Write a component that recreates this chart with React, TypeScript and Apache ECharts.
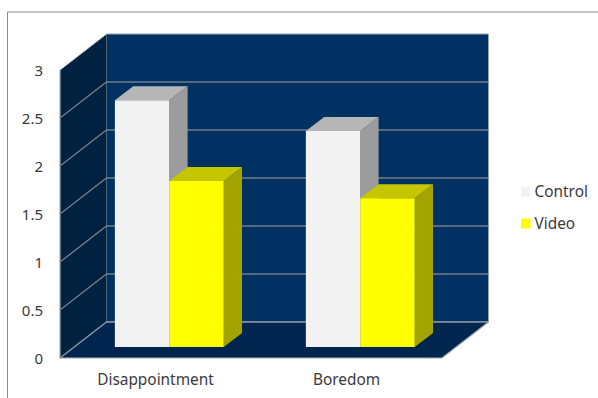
import React, { useEffect, useRef } from "react";
import * as echarts from "echarts";

const categories = ["Disappointment", "Boredom"];
const controlValues = [2.57, 2.25];
const videoValues = [1.73, 1.55];
const valueTicks = [0, 0.5, 1, 1.5, 2, 2.5, 3];

const FONT = "'Noto Sans', sans-serif";
const TEXT = "#3a3a3a";
const EDGE = "#8c96a3";
const GRID_LINE = "#707c8a";

// Oblique projection: how far the back wall sits from the front plane
const WALL_DX = 46.5;
const WALL_DY = 36;
// Bars stand part way into the floor and have their own depth
const BAR_INSET_X = 13.8;
const BAR_INSET_Y = 11;
const BAR_DX = 18.3;
const BAR_DY = 14;
const BAR_SHARE = 0.285;

const poly = (points: number[][], fill: string, stroke?: string, lineWidth = 1) => ({
  type: "polygon",
  shape: { points },
  style: { fill, stroke: stroke ?? "none", lineWidth },
});

// Walls and floor, with one gridline per value tick
const renderWalls = (params: any, api: any) => {
  const { x, y, width, height } = params.coordSys;
  const tick = api.value(0);
  const ty = api.coord([0, tick])[1];
  const children: any[] = [];
  if (params.dataIndex === 0) {
    const bottom = y + height;
    const right = x + width;
    children.push(
      poly([[x + WALL_DX, y - WALL_DY], [right + WALL_DX, y - WALL_DY], [right + WALL_DX, bottom - WALL_DY], [x + WALL_DX, bottom - WALL_DY]], "#003163", "#9aa3ad"),
      poly([[x, y], [x + WALL_DX, y - WALL_DY], [x + WALL_DX, bottom - WALL_DY], [x, bottom]], "#00213f"),
      poly([[x, bottom], [right, bottom], [right + WALL_DX, bottom - WALL_DY], [x + WALL_DX, bottom - WALL_DY]], "#00264f"),
      {
        type: "polyline",
        shape: { points: [[x, y], [x, bottom], [right, bottom], [right + WALL_DX, bottom - WALL_DY]] },
        style: { fill: "none", stroke: "#a6abb2", lineWidth: 1.2 },
      },
      {
        type: "line",
        shape: { x1: x, y1: y, x2: x + WALL_DX, y2: y - WALL_DY },
        style: { stroke: "#c4c8cd", lineWidth: 1 },
      }
    );
  }
  if (tick < valueTicks[valueTicks.length - 1]) {
    children.push({
      type: "polyline",
      shape: { points: [[x, ty], [x + WALL_DX, ty - WALL_DY], [x + width + WALL_DX, ty - WALL_DY]] },
      style: { fill: "none", stroke: tick === 0 ? EDGE : GRID_LINE, lineWidth: 1.4 },
    });
  }
  return { type: "group", children };
};

// A box whose front face is placed from the value scale
const renderBar = (slot: number, front: string, top: string, side: string) => (_: any, api: any) => {
  const base = api.coord([api.value(0), 0]);
  const head = api.coord([api.value(0), api.value(1)]);
  const w = api.size([1, 0])[0] * BAR_SHARE;
  const x0 = base[0] + BAR_INSET_X + slot * w;
  const x1 = x0 + w;
  const y0 = base[1] - BAR_INSET_Y;
  const y1 = head[1] - BAR_INSET_Y;
  return {
    type: "group",
    children: [
      poly([[x1, y0], [x1 + BAR_DX, y0 - BAR_DY], [x1 + BAR_DX, y1 - BAR_DY], [x1, y1]], side),
      poly([[x0, y1], [x1, y1], [x1 + BAR_DX, y1 - BAR_DY], [x0 + BAR_DX, y1 - BAR_DY]], top),
      poly([[x0, y0], [x1, y0], [x1, y1], [x0, y1]], front),
    ],
  };
};

const pairs = (values: number[]) => values.map((v, i) => [i, v]);

export default function App() {
  const ref = useRef<HTMLDivElement>(null);

  useEffect(() => {
    const chart = echarts.init(ref.current!, null, { renderer: "svg" });
    chart.setOption({
      animation: false,
      backgroundColor: "#ffffff",
      textStyle: { fontFamily: FONT },
      grid: { left: 60, right: 156, top: 70, bottom: 40, containLabel: false },
      xAxis: {
        type: "category",
        data: categories,
        axisLine: { show: false },
        axisTick: { show: false },
        axisLabel: { color: TEXT, fontFamily: FONT, fontSize: 15.4, margin: 14 },
      },
      yAxis: {
        type: "value",
        min: 0,
        max: 3,
        interval: 0.5,
        axisLine: { show: false },
        axisTick: { show: false },
        splitLine: { show: false },
        axisLabel: { color: TEXT, fontFamily: FONT, fontSize: 15, margin: 17 },
      },
      legend: {
        orient: "vertical",
        left: 521,
        top: 184,
        padding: 0,
        itemWidth: 9.5,
        itemHeight: 10,
        itemGap: 17,
        icon: "rect",
        data: ["Control", "Video"],
        textStyle: { color: TEXT, fontFamily: FONT, fontSize: 15.4, padding: [0, 0, 0, -1] },
      },
      graphic: [
        {
          type: "polyline",
          shape: { points: [[7.5, 398], [7.5, 12], [598, 12]] },
          style: { fill: "none", stroke: "#8a8a8a", lineWidth: 1 },
        },
      ],
      series: [
        {
          type: "custom",
          silent: true,
          z: 1,
          encode: { y: 0 },
          data: valueTicks.map((t) => [t]),
          renderItem: renderWalls,
        },
        {
          type: "custom",
          name: "Control",
          z: 2,
          encode: { x: 0, y: 1 },
          itemStyle: { color: "#f2f2f2" },
          data: pairs(controlValues),
          renderItem: renderBar(-1, "#f2f2f2", "#b6b6b6", "#9c9c9c"),
        },
        {
          type: "custom",
          name: "Video",
          z: 3,
          encode: { x: 0, y: 1 },
          itemStyle: { color: "#ffff00" },
          data: pairs(videoValues),
          renderItem: renderBar(0, "#ffff00", "#c6c600", "#a4a400"),
        },
      ],
    });
    return () => chart.dispose();
  }, []);

  return <div ref={ref} style={{ position: "fixed", left: 0, top: 0, width: 598, height: 398 }} />;
}
